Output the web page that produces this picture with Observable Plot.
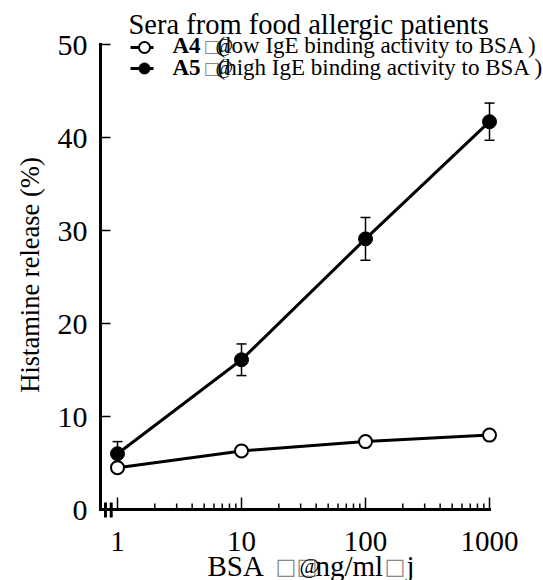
<!DOCTYPE html>
<html><head><meta charset="utf-8">
<script src="https://cdn.jsdelivr.net/npm/d3@7"></script>
<script src="https://cdn.jsdelivr.net/npm/@observablehq/plot@0.6"></script>
<style>body{margin:0;background:#fff}</style>
</head><body>
<script>
// ---- data ----
const doses = [1, 10, 100, 1000];
const a4Values = [4.5, 6.3, 7.3, 8.0];
const a5Values = [6.0, 16.1, 29.1, 41.7];
const a5Errors = [1.3, 1.7, 2.3, 2.0];
const xTicks = [1, 10, 100, 1000];
const xMinorTicks = [2,3,4,5,6,7,8,9,20,30,40,50,60,70,80,90,200,300,400,500,600,700,800,900];
const yTicks = [0, 10, 20, 30, 40, 50];
const axisBreak = [0.8, 0.89];
const legendTitle = "Sera from food allergic patients";
const seriesNames = ["A4", "A5"];
const seriesNotes = ["(low IgE binding activity to BSA )", "(high IgE binding activity to BSA )"];
const yLabel = "Histamine release (%)";
const xLabelParts = ["BSA", "\u25A1", "\u25A1", "@", "ng/ml", "\u25A1", "j"];

const rows = doses.map((d, i) => ({dose: d, a4: a4Values[i], a5: a5Values[i], err: a5Errors[i]}));

// ---- shapes ----
const hLine = (a, b) => ({draw(ctx) { ctx.moveTo(a, 0); ctx.lineTo(b, 0); }});
const vLine = (a, b) => ({draw(ctx) { ctx.moveTo(0, a); ctx.lineTo(0, b); }});

const serif = "Liberation Serif";
const tofu = (dx, dy, size) => Plot.text(["\u25A1"], {text: d => d, frameAnchor: "top-left", dx, dy, fontSize: size, fill: "#888", lineAnchor: "bottom", textAnchor: "start", fontFamily: "DejaVu Sans"});
const xPart = (i, dx, dy, size, extra = {}) => Plot.text([xLabelParts[i]], {text: d => d, frameAnchor: "bottom-left", dx, dy, textAnchor: "start", lineAnchor: "bottom", fontSize: size, ...extra});
const grey = {fill: "#888", fontFamily: "DejaVu Sans"};

const chart = Plot.plot({
  width: 543,
  height: 580,
  marginLeft: 100,
  marginRight: 54,
  marginTop: 44,
  marginBottom: 71,
  x: {type: "log", domain: [1, 1000], range: [117, 489], axis: null},
  y: {domain: [0, 50], range: [509, 44], axis: null},
  style: {fontFamily: serif, background: "white", overflow: "visible", color: "black"},
  marks: [
    Plot.frame({anchor: "left", strokeWidth: 3, stroke: "black"}),
    Plot.frame({anchor: "bottom", strokeWidth: 3, stroke: "black"}),
    Plot.dot(yTicks, {y: d => d, frameAnchor: "left", symbol: hLine(0, 10), r: 1, stroke: "black", fill: "none", strokeWidth: 1.5}),
    Plot.dot(xTicks, {x: d => d, frameAnchor: "bottom", symbol: vLine(-12, 0), r: 1, stroke: "black", fill: "none", strokeWidth: 1.5}),
    Plot.dot(xMinorTicks, {x: d => d, frameAnchor: "bottom", symbol: vLine(-6, 0), r: 1, stroke: "black", fill: "none", strokeWidth: 1.5}),
    Plot.dot(axisBreak, {x: d => d, frameAnchor: "bottom", symbol: vLine(-7, 8), r: 1, stroke: "black", fill: "none", strokeWidth: 3}),
    Plot.text(yTicks, {y: d => d, text: d => String(d), frameAnchor: "left", dx: -13, dy: 1, textAnchor: "end", lineAnchor: "middle", fontSize: 30}),
    Plot.text(xTicks, {x: d => d, text: d => String(d), frameAnchor: "bottom", dy: 41, textAnchor: "middle", lineAnchor: "bottom", fontSize: 29}),
    Plot.text([yLabel], {text: d => d, frameAnchor: "left", dx: -70, dy: -2, rotate: -90, textAnchor: "middle", lineAnchor: "middle", fontSize: 26.5}),
    // x label pieces
    xPart(0, 107, 66, 29),
    xPart(1, 175, 64, 22, grey),
    xPart(2, 196, 64, 22, grey),
    xPart(3, 199, 63, 22),
    xPart(4, 215, 66, 29),
    xPart(5, 284, 64, 22, grey),
    xPart(6, 306, 66, 29),
    // data
    Plot.line(rows, {x: "dose", y: "a5", stroke: "black", strokeWidth: 3}),
    Plot.line(rows, {x: "dose", y: "a4", stroke: "black", strokeWidth: 3}),
    Plot.ruleX(rows, {x: "dose", y1: d => d.a5 - d.err, y2: d => d.a5 + d.err, stroke: "black", strokeWidth: 1.5}),
    Plot.dot(rows, {x: "dose", y: d => d.a5 + d.err, symbol: hLine(-5, 5), r: 1, stroke: "black", fill: "none", strokeWidth: 1.5}),
    Plot.dot(rows, {x: "dose", y: d => d.a5 - d.err, symbol: hLine(-5, 5), r: 1, stroke: "black", fill: "none", strokeWidth: 1.5}),
    Plot.dot(rows, {x: "dose", y: "a5", r: 7, fill: "black", stroke: "black", strokeWidth: 1}),
    Plot.dot(rows, {x: "dose", y: "a4", r: 6.5, fill: "white", stroke: "black", strokeWidth: 2}),
    // legend
    Plot.text([legendTitle], {text: d => d, frameAnchor: "top-left", dx: 28, dy: -11, textAnchor: "start", lineAnchor: "bottom", fontSize: 28.5}),
    Plot.dot([seriesNames[0]], {frameAnchor: "top-left", dx: 42, dy: 3, symbol: hLine(-12, 11), r: 1, stroke: "black", fill: "none", strokeWidth: 3}),
    Plot.dot([seriesNames[0]], {frameAnchor: "top-left", dx: 44, dy: 3, r: 5.5, fill: "white", stroke: "black", strokeWidth: 2}),
    Plot.dot([seriesNames[1]], {frameAnchor: "top-left", dx: 42, dy: 24, symbol: hLine(-12, 11), r: 1, stroke: "black", fill: "none", strokeWidth: 3}),
    Plot.dot([seriesNames[1]], {frameAnchor: "top-left", dx: 44, dy: 24, r: 5.5, fill: "black", stroke: "black", strokeWidth: 1}),
    Plot.text([seriesNames[0]], {text: d => d, frameAnchor: "top-left", dx: 72, dy: 8, textAnchor: "start", lineAnchor: "bottom", fontSize: 23, fontWeight: "bold"}),
    Plot.text([seriesNames[1]], {text: d => d, frameAnchor: "top-left", dx: 72, dy: 30, textAnchor: "start", lineAnchor: "bottom", fontSize: 23, fontWeight: "bold"}),
    tofu(103, 7, 17),
    tofu(103, 29, 17),
    Plot.text(["@"], {text: d => d, frameAnchor: "top-left", dx: 115, dy: 7, textAnchor: "start", lineAnchor: "bottom", fontSize: 19}),
    Plot.text(["@"], {text: d => d, frameAnchor: "top-left", dx: 115, dy: 29, textAnchor: "start", lineAnchor: "bottom", fontSize: 19}),
    Plot.text([seriesNotes[0]], {text: d => d, frameAnchor: "top-left", dx: 117, dy: 8, textAnchor: "start", lineAnchor: "bottom", fontSize: 23}),
    Plot.text([seriesNotes[1]], {text: d => d, frameAnchor: "top-left", dx: 117, dy: 30, textAnchor: "start", lineAnchor: "bottom", fontSize: 23})
  ]
});
document.body.appendChild(chart);
</script>
</body></html>
